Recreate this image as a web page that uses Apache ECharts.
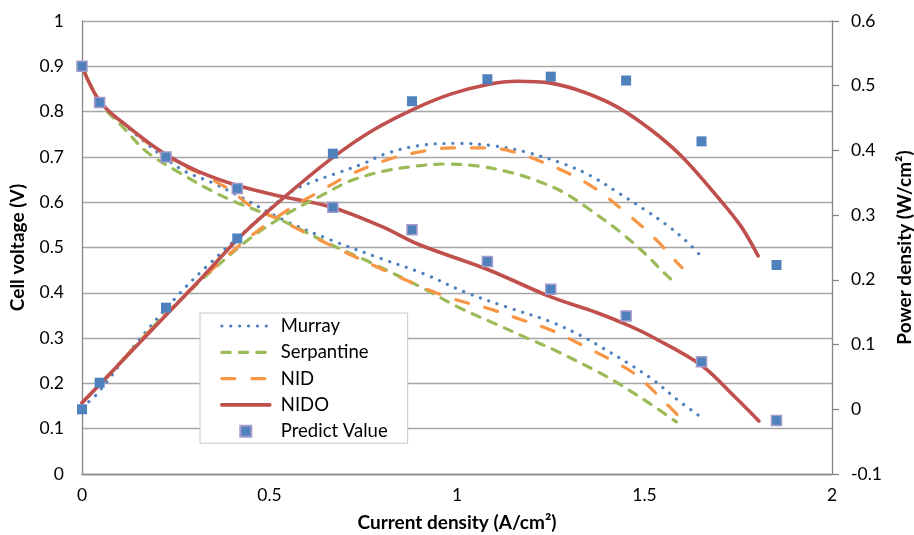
<!DOCTYPE html>
<html><head><meta charset="utf-8">
<script src="https://cdn.jsdelivr.net/npm/echarts@6/dist/echarts.min.js"></script>
<style>html,body{margin:0;padding:0;background:#fff}#c{width:914px;height:535px}</style>
</head><body><div id="c"></div>
<script>
// ---- data ----
const currentPts = [0, 0.047, 0.224, 0.414, 0.669, 0.88, 1.081, 1.25, 1.451, 1.652, 1.852];
const predictVoltage = [0.900, 0.82, 0.70, 0.63, 0.589, 0.539, 0.469, 0.408, 0.349, 0.248, 0.118];
const predictPower = [0.000, 0.041, 0.157, 0.264, 0.395, 0.476, 0.510, 0.514, 0.508, 0.414, 0.223];

const murrayVoltage = [[0,0.90],[0.05,0.82],[0.13,0.759],[0.26,0.675],[0.35,0.642],[0.413,0.616],[0.547,0.557],[0.662,0.517],[0.796,0.476],[0.911,0.442],[1.023,0.401],[1.138,0.367],[1.25,0.336],[1.339,0.302],[1.383,0.281],[1.463,0.241],[1.526,0.206],[1.583,0.167],[1.645,0.129]];
const serpVoltage = [[0,0.90],[0.05,0.818],[0.11,0.765],[0.173,0.711],[0.262,0.664],[0.351,0.623],[0.413,0.599],[0.529,0.561],[0.662,0.507],[0.769,0.467],[0.9,0.414],[1.009,0.366],[1.098,0.333],[1.187,0.30],[1.259,0.274],[1.397,0.216],[1.459,0.185],[1.526,0.149],[1.585,0.115]];
const nidVoltage = [[0,0.90],[0.05,0.82],[0.13,0.762],[0.224,0.70],[0.333,0.656],[0.40,0.624],[0.449,0.592],[0.53,0.560],[0.618,0.523],[0.698,0.491],[0.80,0.452],[0.92,0.408],[1.0,0.384],[1.089,0.364],[1.17,0.341],[1.25,0.318],[1.325,0.288],[1.41,0.252],[1.477,0.219],[1.539,0.171],[1.605,0.116]];
const nidoVoltage = [[0,0.90],[0.05,0.82],[0.13,0.762],[0.224,0.705],[0.31,0.668],[0.41,0.638],[0.53,0.613],[0.662,0.590],[0.80,0.546],[0.90,0.506],[1.08,0.452],[1.25,0.391],[1.37,0.357],[1.46,0.327],[1.52,0.303],[1.65,0.241],[1.74,0.171],[1.805,0.117]];

const murrayPower = [[0,0.003],[0.042,0.025],[0.146,0.103],[0.262,0.180],[0.333,0.221],[0.44,0.278],[0.555,0.335],[0.622,0.353],[0.671,0.363],[0.756,0.381],[0.805,0.394],[0.894,0.407],[1.0,0.411],[1.099,0.407],[1.187,0.397],[1.285,0.379],[1.356,0.361],[1.437,0.332],[1.499,0.309],[1.561,0.284],[1.615,0.258],[1.645,0.240]];
const serpPower = [[0,0.01],[0.05,0.04],[0.225,0.148],[0.422,0.252],[0.538,0.299],[0.644,0.332],[0.716,0.353],[0.805,0.368],[0.894,0.376],[0.965,0.379],[1.054,0.376],[1.143,0.366],[1.214,0.353],[1.285,0.335],[1.348,0.311],[1.437,0.273],[1.508,0.237],[1.543,0.216],[1.580,0.196]];
const nidPower = [[0,0.01],[0.05,0.04],[0.225,0.148],[0.413,0.250],[0.538,0.304],[0.644,0.340],[0.716,0.363],[0.822,0.387],[0.911,0.399],[0.983,0.404],[1.072,0.404],[1.143,0.399],[1.232,0.381],[1.303,0.363],[1.374,0.339],[1.454,0.302],[1.526,0.265],[1.583,0.229],[1.600,0.219]];
const nidoPower = [[0,0.01],[0.05,0.04],[0.225,0.146],[0.324,0.206],[0.431,0.272],[0.542,0.329],[0.671,0.390],[0.778,0.432],[0.885,0.464],[0.983,0.487],[1.082,0.502],[1.161,0.507],[1.25,0.504],[1.339,0.490],[1.428,0.467],[1.517,0.432],[1.597,0.392],[1.695,0.328],[1.757,0.283],[1.803,0.237]];

const legendNames = ['Murray', 'Serpantine', 'NID', 'NIDO', 'Predict Value'];
const xTitle = 'Current density (A/cm²)';
const yLeftTitle = 'Cell voltage (V)';
const yRightTitle = 'Power density (W/cm²)';

// ---- styles ----
const FONT = 'Lato';
const TICK_FS = 17.5;
const TITLE_FS = 19;
const LEGEND_FS = 18.5;
const styles = {
  'Murray': {color:'#4F81BD', width:3.2, type:[0.1, 8.8], cap:'round'},
  'Serpantine': {color:'#9BBB59', width:3.2, type:[8.5, 9], cap:'round'},
  'NID': {color:'#F79646', width:3.2, type:[13, 17], cap:'round'},
  'NIDO': {color:'#C0504D', width:3.6, type:'solid', cap:'round'}
};

function lineSeries(name, data, yAxisIndex) {
  return {name, type:'line', data, yAxisIndex, smooth:0.35, showSymbol:false,
    lineStyle: styles[name], itemStyle:{color: styles[name].color}, z:2, silent:true};
}

const chart = echarts.init(document.getElementById('c'), null, {renderer:'canvas'});
const axisLineStyle = {color:'#868686', width:1.3};
chart.setOption({
  animation:false,
  backgroundColor:'#fff',
  textStyle:{fontFamily:FONT},
  grid:{left:82, right:82, top:21, bottom:61, containLabel:false, outerBoundsMode:'none'},
  xAxis:{type:'value', min:0, max:2, interval:0.5,
    axisLine:{show:true, onZero:false, lineStyle:axisLineStyle}, axisTick:{show:false}, splitLine:{show:false},
    axisLabel:{fontSize:TICK_FS, color:'#000', margin:12, fontFamily:FONT},
    name:xTitle, nameLocation:'middle', nameGap:39,
    nameTextStyle:{fontWeight:'bold', fontSize:TITLE_FS, color:'#000', fontFamily:FONT}},
  yAxis:[
    {type:'value', min:0, max:1, interval:0.1, position:'left',
      axisLine:{show:true, lineStyle:axisLineStyle}, axisTick:{show:false},
      splitLine:{show:true, lineStyle:{color:'#A6A6A6', width:1.3}},
      axisLabel:{fontSize:TICK_FS, color:'#000', margin:18, fontFamily:FONT},
      name:yLeftTitle, nameLocation:'middle', nameGap:55,
      nameTextStyle:{fontWeight:'bold', fontSize:TITLE_FS, color:'#000', fontFamily:FONT}},
    {type:'value', min:-0.1, max:0.6, interval:0.1, position:'right',
      axisLine:{show:true, lineStyle:axisLineStyle}, axisTick:{show:true, length:7, lineStyle:axisLineStyle},
      splitLine:{show:false},
      axisLabel:{fontSize:TICK_FS, color:'#000', margin:19, fontFamily:FONT},
      name:yRightTitle, nameLocation:'middle', nameGap:63,
      nameTextStyle:{fontWeight:'bold', fontSize:TITLE_FS, color:'#000', fontFamily:FONT}}
  ],
  legend:{orient:'vertical', left:200, top:313, padding:[3,20,2,20], itemGap:6.3,
    itemWidth:48, itemHeight:11, backgroundColor:'#fff', borderColor:'#C6C6C6', borderWidth:1,
    symbolKeepAspect:true,
    lineStyle:{width:'inherit'},
    textStyle:{fontSize:LEGEND_FS, color:'#000', fontFamily:FONT, lineHeight:20,
      rich:{a:{fontSize:LEGEND_FS, fontFamily:FONT, color:'#000', padding:[0,0,0,6], lineHeight:20}}},
    formatter:function(n){return '{a|' + n + '}';},
    data:legendNames.map(function(n){
      if (n === 'Predict Value') return {name:n, icon:'path://M0,0H10V10H0Z'};
      return {name:n, itemStyle:{opacity:0}};
    })},
  series:[
    lineSeries('Murray', murrayVoltage, 0),
    lineSeries('Serpantine', serpVoltage, 0),
    lineSeries('NID', nidVoltage, 0),
    lineSeries('NIDO', nidoVoltage, 0),
    lineSeries('Murray', murrayPower, 1),
    lineSeries('Serpantine', serpPower, 1),
    lineSeries('NID', nidPower, 1),
    lineSeries('NIDO', nidoPower, 1),
    {name:'Predict Value', type:'scatter', yAxisIndex:0, symbol:'rect', symbolSize:10, z:5, silent:true,
      itemStyle:{color:'#4F81BD', borderColor:'#A39BCB', borderWidth:1.5, opacity:1},
      data:currentPts.map(function(x,i){return [x, predictVoltage[i]];})},
    {name:'Predict Value', type:'scatter', yAxisIndex:1, symbol:'rect', symbolSize:10, z:5, silent:true,
      itemStyle:{color:'#4F81BD', borderWidth:0, opacity:1},
      data:currentPts.map(function(x,i){return [x, predictPower[i]];})}
  ]
});
</script></body></html>
